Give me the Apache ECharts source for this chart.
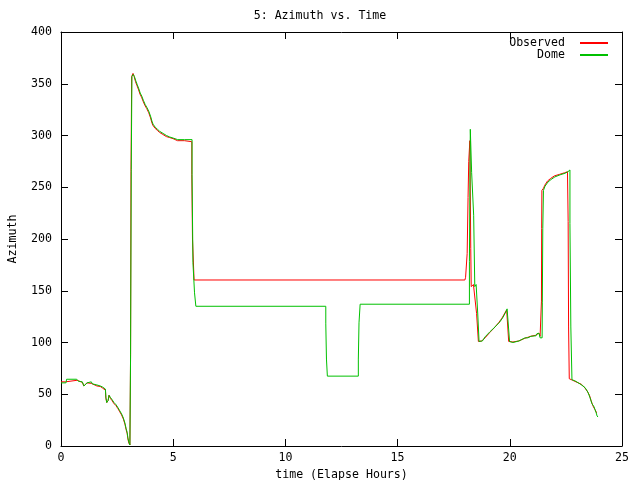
<!DOCTYPE html>
<html>
<head>
<meta charset="utf-8">
<script src="https://cdn.jsdelivr.net/npm/echarts@6/dist/echarts.min.js"></script>
<style>html,body{margin:0;padding:0;background:#fff}#c{width:640px;height:480px}</style>
</head>
<body>
<div id="c"></div>
<script>
var titleText = "5: Azimuth vs. Time";
var xName = "time (Elapse Hours)";
var yName = "Azimuth";
var seriesNames = ["Observed", "Dome"];

var observed = [
[0,62],[0.2,62],[0.24,63.5],[0.72,63.5],[0.78,62],[0.95,61.5],[1.02,58],[1.1,57],[1.16,61],[1.22,61],[1.35,60.5],[1.42,59],[1.6,58],[1.75,57.5],[1.85,56],[1.93,55],[1.98,54],[2.0,46],[2.04,42],[2.1,44],[2.14,49],[2.2,46],[2.27,44],[2.36,41],[2.45,39],[2.54,36],[2.62,33],[2.7,30],[2.78,26],[2.85,21],[2.9,16],[2.95,12],[2.98,7],[3.02,3],[3.07,1],[3.1,0],
[3.1,88],[3.12,88],[3.12,265],[3.15,265],[3.15,357],[3.21,360],[3.26,357],[3.32,352],[3.39,348],[3.46,344],[3.52,340],[3.59,337],[3.66,333],[3.74,329],[3.82,326],[3.91,322],[3.99,317],[4.04,313],[4.09,310],[4.19,307],[4.29,305],[4.39,303],[4.54,301],[4.69,299],[4.84,298],[4.99,297],[5.19,295],[5.5,295],[5.83,294],
[5.83,262],[5.86,262],[5.86,200],[5.92,200],[5.93,160.4],[18.0,160.4],[18.03,163],[18.06,161.5],[18.09,163],[18.1,186],[18.13,186],[18.14,240],[18.16,240],[18.17,275],[18.21,275],[18.22,295],[18.25,295],[18.26,191],[18.28,154],[18.35,154],[18.38,156],[18.42,155],[18.46,155],[18.52,128],[18.57,128],[18.6,101],
[18.75,101.5],[18.9,104.5],[19.1,109.5],[19.3,114],[19.5,119],[19.65,123.5],[19.78,128.5],[19.86,131.5],[19.9,132.5],[19.95,101],[20.0,99.5],[20.14,100.5],[20.4,101.5],[20.45,102.5],[20.66,104],[20.8,105],[20.93,106],[21.15,107],[21.2,108.5],[21.3,109],[21.35,106],[21.4,105],[21.41,105],[21.41,140],[21.42,210],[21.43,247],[21.5,249],[21.56,252],[21.68,256],[21.82,258.5],[21.99,261],[22.22,262.5],[22.44,264],[22.57,265],[22.6,265.5],
[22.6,217],[22.62,217],[22.62,115],[22.64,115],[22.65,65],[22.8,63.5],[23.0,61.5],[23.2,59.5],[23.35,56],[23.45,53],[23.55,49],[23.62,44],[23.7,39],[23.75,38],[23.8,35],[23.87,32]
];

var dome = [
[0,61],[0.22,61],[0.25,64.5],[0.7,64.5],[0.78,62.5],[0.95,62],[1.02,58],[1.1,57],[1.16,61],[1.22,62],[1.35,62],[1.4,60],[1.6,59],[1.75,58],[1.85,57],[1.93,55.5],[1.98,55],[2.0,47],[2.04,42],[2.1,44],[2.14,49],[2.2,47],[2.27,45],[2.36,42],[2.45,40],[2.54,37],[2.62,34],[2.7,31],[2.78,27],[2.85,22],[2.9,17],[2.95,13],[2.98,8],[3.02,4],[3.07,1],[3.1,0],
[3.1,88],[3.13,88],[3.13,267],[3.16,267],[3.16,357],[3.22,359],[3.27,357],[3.33,353],[3.4,349],[3.47,345],[3.53,341],[3.6,338],[3.67,334],[3.75,330],[3.83,327],[3.92,323],[4.0,318],[4.05,314],[4.1,311],[4.2,308],[4.3,306],[4.4,304],[4.55,302],[4.7,300],[4.85,298.5],[5.0,297.5],[5.2,296],[5.5,296],[5.84,296],
[5.84,262],[5.88,262],[5.88,177],[5.95,177],[5.95,148],[6.01,148],[6.01,135],[11.8,135],[11.8,118],[11.83,118],[11.83,84],[11.87,84],[11.87,67.5],[13.25,67.5],[13.25,84],[13.28,84],[13.28,119],[13.33,119],[13.33,137],[18.2,137],
[18.2,178],[18.23,178],[18.24,306],[18.28,306],[18.3,264],[18.37,264],[18.39,223],[18.42,223],[18.44,154],[18.48,154],[18.5,156],[18.55,155],[18.57,128.5],[18.61,128.5],[18.63,101],[18.78,101.5],[18.9,105.5],[19.12,110.5],[19.34,115],[19.56,120],[19.7,124.5],[19.82,129.5],[19.88,132.5],[19.93,133],[19.95,133],[19.99,101],[20.01,100],[20.14,100],[20.15,101.5],[20.41,101.5],[20.45,102.5],[20.68,104.5],[20.81,104.5],[20.94,106],[21.17,106.5],[21.21,108.5],[21.3,109],[21.35,104.5],[21.44,104.5],[21.45,139],[21.47,139],[21.47,210],[21.49,210],[21.5,247],[21.57,251],[21.7,255],[21.84,257.5],[22.01,260],[22.24,262],[22.46,263.5],[22.59,265],[22.68,266.7],
[22.68,215],[22.72,215],[22.72,115],[22.75,115],[22.77,64],[22.9,63],[23.13,60],[23.35,56.5],[23.48,52],[23.57,47],[23.66,41],[23.75,38],[23.8,35],[23.85,32],[23.89,29],[23.93,28]
];

var xTicks = {min: 0, max: 25, interval: 5};
var yTicks = {min: 0, max: 400, interval: 50};

var font = "DejaVu Sans Mono";
var chart = echarts.init(document.getElementById('c'), null, {renderer: 'canvas'});
var axisCommon = {
  axisLine: {show: true, onZero: false, lineStyle: {color: '#000', width: 1}},
  axisTick: {show: true, inside: true, length: 7, lineStyle: {color: '#000'}},
  splitLine: {show: false}
};
function mk(base, extra) { return Object.assign({}, JSON.parse(JSON.stringify(base)), extra); }

chart.setOption({
  animation: false,
  backgroundColor: '#fff',
  title: {
    text: titleText, left: 'center', top: 5,
    textStyle: {fontFamily: font, fontSize: 11.6, fontWeight: 'normal', color: '#000'}
  },
  legend: {
    orient: 'vertical', right: 27, top: 32, align: 'right',
    itemWidth: 28, itemHeight: 2, itemGap: 0, icon: 'rect',
    textStyle: {fontFamily: font, fontSize: 11.6, color: '#000', lineHeight: 11, padding: [0, 10, 0, 0]},
    data: seriesNames
  },
  grid: {left: 61, right: 18, top: 32, bottom: 34, containLabel: false, outerBoundsMode: 'none'},
  xAxis: [
    mk(axisCommon, {type: 'value', position: 'bottom', min: xTicks.min, max: xTicks.max, interval: xTicks.interval,
      name: xName, nameLocation: 'middle', nameGap: 20,
      nameTextStyle: {fontFamily: font, fontSize: 11.6, color: '#000'},
      axisLabel: {fontFamily: font, fontSize: 11.6, color: '#000', margin: 6}}),
    mk(axisCommon, {type: 'value', position: 'top', min: xTicks.min, max: xTicks.max, interval: xTicks.interval,
      axisLabel: {show: false}})
  ],
  yAxis: [
    mk(axisCommon, {type: 'value', position: 'left', min: yTicks.min, max: yTicks.max, interval: yTicks.interval,
      name: yName, nameLocation: 'middle', nameGap: 42, nameRotate: 90,
      nameTextStyle: {fontFamily: font, fontSize: 11.6, color: '#000'},
      axisLabel: {fontFamily: font, fontSize: 11.6, color: '#000', margin: 9}}),
    mk(axisCommon, {type: 'value', position: 'right', min: yTicks.min, max: yTicks.max, interval: yTicks.interval,
      axisLabel: {show: false}})
  ],
  series: [
    {name: seriesNames[0], type: 'line', data: observed, showSymbol: false, symbol: 'none',
      lineStyle: {color: '#ff0000', width: 1}, itemStyle: {color: '#ff0000'}, z: 2},
    {name: seriesNames[1], type: 'line', data: dome, showSymbol: false, symbol: 'none',
      lineStyle: {color: '#00c000', width: 1}, itemStyle: {color: '#00c000'}, z: 3}
  ]
});
</script>
</body>
</html>
